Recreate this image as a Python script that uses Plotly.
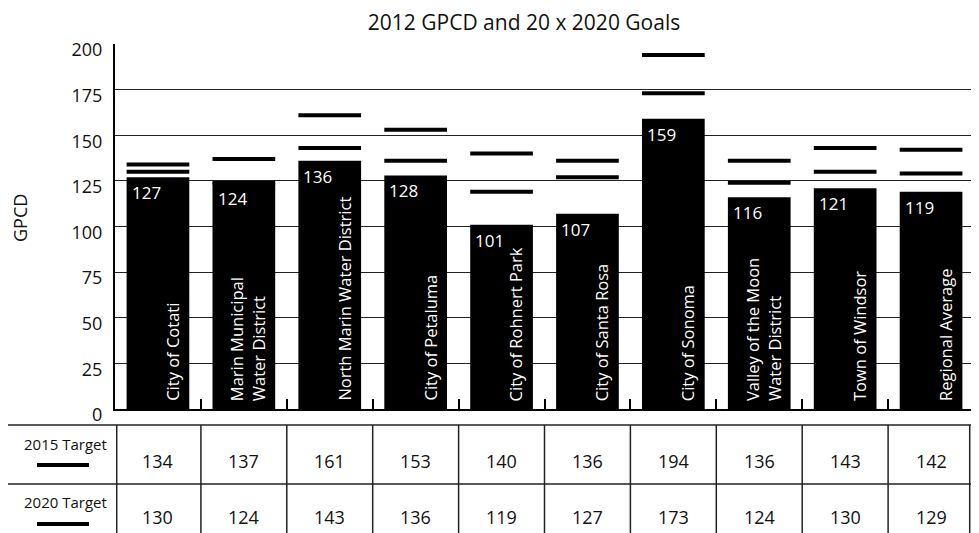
import plotly.graph_objects as go

categories = ["City of Cotati", "Marin Municipal<br>Water District", "North Marin Water District",
              "City of Petaluma", "City of Rohnert Park", "City of Santa Rosa", "City of Sonoma",
              "Valley of the Moon<br>Water District", "Town of Windsor", "Regional Average"]
gpcd_2012 = [127, 124, 136, 128, 101, 107, 159, 116, 121, 119]
target_2015 = [134, 137, 161, 153, 140, 136, 194, 136, 143, 142]
target_2020 = [130, 124, 143, 136, 119, 127, 173, 124, 130, 129]
row_labels = ["2015 Target", "2020 Target"]
y_ticks = [0, 25, 50, 75, 100, 125, 150, 175, 200]

FONT = "Open Sans"
OX, OY = 8, 8                 # page offset of the plot div
PL, PR, PT, PB = 115, 974, 44, 409   # plot area in page pixels
W, H = 979 - OX, 533 - OY
L, T = PL - OX, PT - OY
R = W - (PR - OX)
B = H - (PB - OY)
BAR_W = 0.73
half = BAR_W / 2
ph = PB - PT
pw = PR - PL

def py(pix):  # page pixel y -> paper y
    return (PB - pix) / ph

def px(pix):  # page pixel x -> paper x
    return (pix - PL) / pw

idx = list(range(len(categories)))

fig = go.Figure()
fig.add_trace(go.Bar(x=idx, y=gpcd_2012, width=BAR_W, marker=dict(color="black", line=dict(width=0)),
                     showlegend=False, hoverinfo="skip"))

shapes = []
annotations = []
for i in idx:
    for val in (target_2015[i], target_2020[i]):
        shapes.append(dict(type="line", xref="x", yref="y", x0=i - half, x1=i + half, y0=val, y1=val,
                           line=dict(color="black", width=4), layer="above"))
    annotations.append(dict(x=i - half, y=gpcd_2012[i], xref="x", yref="y", text=str(gpcd_2012[i]),
                            showarrow=False, xanchor="left", yanchor="top", xshift=3, yshift=-2,
                            font=dict(family=FONT, size=17, color="white")))
    annotations.append(dict(x=i + half, y=0, xref="x", yref="y", text=categories[i], textangle=-90,
                            showarrow=False, xanchor="right", yanchor="bottom", xshift=-4, yshift=6,
                            align="left", font=dict(family=FONT, size=16.5, color="white")))
    annotations.append(dict(x=i, y=py(461), xref="x", yref="paper", text=str(target_2015[i]),
                            showarrow=False, xanchor="center", yanchor="middle",
                            font=dict(family=FONT, size=18, color="#111")))
    annotations.append(dict(x=i, y=py(517), xref="x", yref="paper", text=str(target_2020[i]),
                            showarrow=False, xanchor="center", yanchor="middle",
                            font=dict(family=FONT, size=18, color="#111")))

# table frame
tbl_left = px(6)
for ypix in (425, 484):
    shapes.append(dict(type="line", xref="paper", yref="paper", x0=tbl_left, x1=px(971), y0=py(ypix), y1=py(ypix),
                       line=dict(color="#222", width=1.5)))
shapes.append(dict(type="line", xref="paper", yref="paper", x0=tbl_left, x1=tbl_left, y0=py(425), y1=py(545),
                   line=dict(color="#222", width=1.5)))
n = len(categories)
for k in range(n + 1):
    xk = k - 0.5 + (0.02 if k == 0 else 0) - (0.05 if k == n else 0)
    shapes.append(dict(type="line", xref="x", yref="paper", x0=xk, x1=xk,
                       y0=py(425), y1=py(545), line=dict(color="#222", width=1.5)))

for lab, ylab, yline in zip(row_labels, (444, 502), (465, 524)):
    annotations.append(dict(x=px(65), y=py(ylab), xref="paper", yref="paper", text=lab, showarrow=False,
                            xanchor="center", yanchor="middle", font=dict(family=FONT, size=15, color="#111")))
    shapes.append(dict(type="line", xref="paper", yref="paper", x0=px(37), x1=px(89), y0=py(yline), y1=py(yline),
                       line=dict(color="black", width=4)))

annotations.append(dict(x=px(20), y=py(218), xref="paper", yref="paper", text="GPCD", textangle=-90,
                        showarrow=False, xanchor="center", yanchor="middle",
                        font=dict(family=FONT, size=18, color="#111")))

fig.update_layout(
    width=W, height=H,
    margin=dict(l=L, r=R, t=T, b=B, pad=0),
    paper_bgcolor="white", plot_bgcolor="white",
    title=dict(text="2012 GPCD and 20 x 2020 Goals", x=(524 - OX) / W, xref="container", xanchor="center",
               y=1 - (23 - OY) / H, yref="container", yanchor="middle",
               font=dict(family=FONT, size=21, color="#111")),
    xaxis=dict(type="linear", range=[-0.5, n - 0.5], tickvals=[k - 0.5 for k in range(n + 1)],
               showticklabels=False, ticks="inside", ticklen=10, tickwidth=2, tickcolor="black",
               showline=True, linewidth=2, linecolor="black", showgrid=False, zeroline=False, fixedrange=True),
    yaxis=dict(range=[0, 200], tickvals=y_ticks, showline=True, linewidth=2, linecolor="black",
               showgrid=True, gridcolor="#222", gridwidth=1, zeroline=False,
               ticks="", ticklabelstandoff=7, ticklabelshift=6,
               tickfont=dict(family=FONT, size=18, color="#111")),
    shapes=shapes, annotations=annotations,
)

fig.write_html("out.html")
